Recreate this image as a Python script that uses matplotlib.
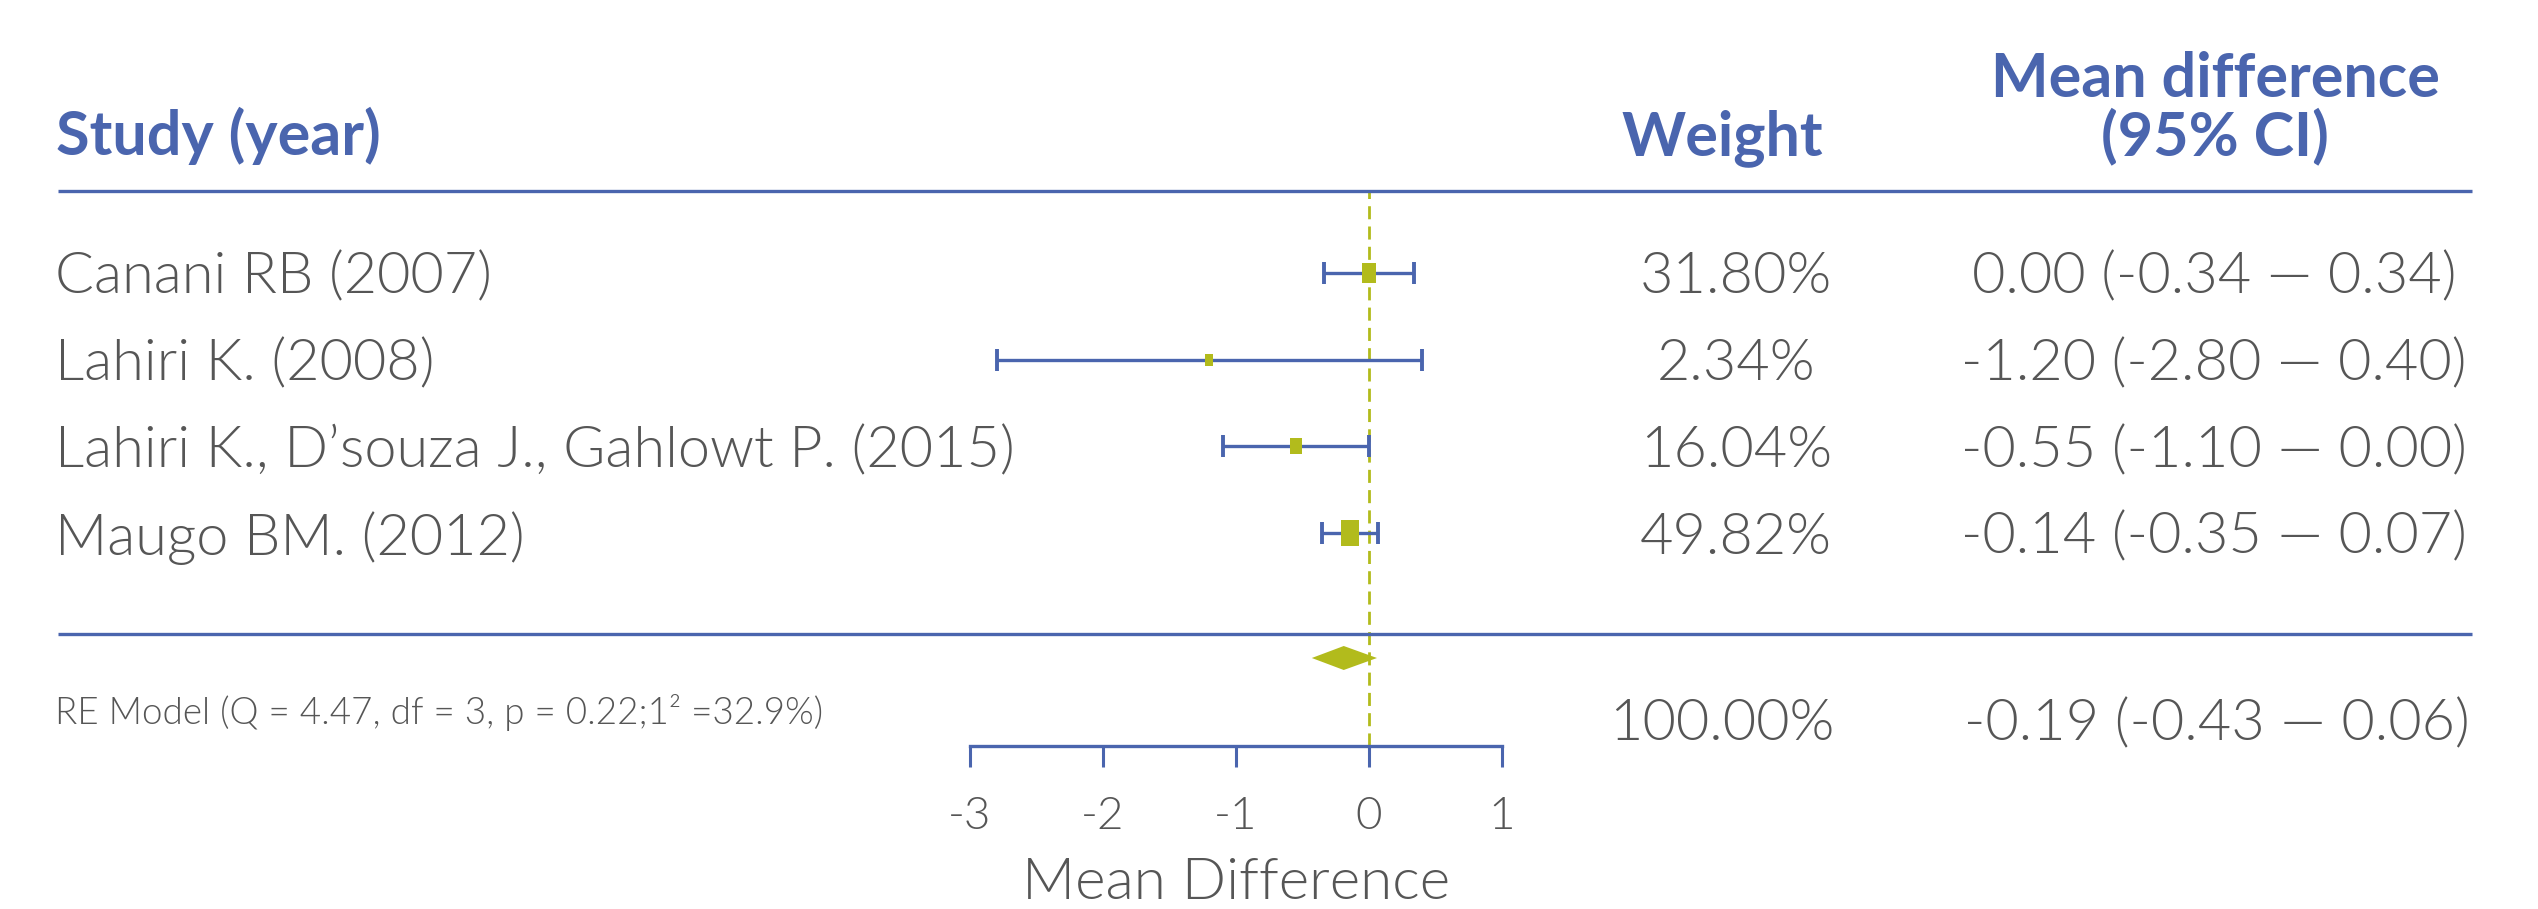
import numpy as np
import matplotlib.pyplot as plt
from matplotlib import transforms, font_manager
from matplotlib.path import Path
from matplotlib.patches import Polygon

plt.rcParams['font.family'] = ['Lato', 'DejaVu Sans']
plt.rcParams['axes.unicode_minus'] = False

studies = ['Canani RB (2007)', 'Lahiri K. (2008)',
           'Lahiri K., D\u2019souza J., Gahlowt P. (2015)', 'Maugo BM. (2012)']
weights = [31.80, 2.34, 16.04, 49.82]
estimates = [0.00, -1.20, -0.55, -0.14]
ci_low = [-0.34, -2.80, -1.10, -0.35]
ci_high = [0.34, 0.40, 0.00, 0.07]

pooled_est, pooled_low, pooled_high = -0.19, -0.43, 0.06
pooled_weight = 100.00
model_text = 'RE Model (Q = 4.47, df = 3, p = 0.22;1\u00b2 =32.9%)'

blue = '#4a65ae'
green = '#b2bb1c'
grey = '#565656'

# Lato Light for the body text (weight='light' alone can land on Hairline)
light_file = None
for f in font_manager.findSystemFonts():
    name = f.split('/')[-1].lower()
    if name.startswith('lato') and 'light' in name and 'italic' not in name:
        light_file = f
        break


def light(size):
    if light_file:
        return font_manager.FontProperties(fname=light_file, size=size)
    return font_manager.FontProperties(family='Lato', weight='light', size=size)


W, H = 2538, 909
fig = plt.figure(figsize=(W / 100, H / 100), dpi=100)

# forest panel: spans -3..1 horizontally, from the header rule down to the axis
ax = fig.add_axes([970 / W, 1 - 746 / H, 532 / W, (746 - 191) / H])
row0, step = 273, 86.7          # pixel row of first study and row spacing


def row(px):
    return (px - row0) / step


ax.set_xlim(-3, 1)
ax.set_ylim(row(746), row(191))

rows = np.arange(len(studies))
est = np.array(estimates)
lo = np.array(ci_low)
hi = np.array(ci_high)

ax.axvline(0, color=green, lw=2.0, dashes=(4.7, 2.6), zorder=1)
ax.errorbar(est, rows, xerr=[est - lo, hi - est], fmt='none', ecolor=blue,
            elinewidth=2.4, capsize=7.6, capthick=2.8, zorder=2, clip_on=False)

# study boxes, taller than wide, sized by weight
box = Path([(-0.7, -1), (0.7, -1), (0.7, 1), (-0.7, 1), (-0.7, -1)],
           [Path.MOVETO, Path.LINETO, Path.LINETO, Path.LINETO, Path.CLOSEPOLY])
for r, e, w in zip(rows, est, weights):
    h_px = 10.5 + 0.33 * w
    ax.plot(e, r, marker=box, ms=h_px * 0.72, color=green, mew=0,
            zorder=3, clip_on=False)

# pooled estimate diamond
yd = row(658)
dh = 12 / step
ax.add_patch(Polygon([(pooled_low, yd), (pooled_est, yd - dh),
                      (pooled_high, yd), (pooled_est, yd + dh)],
                     closed=True, color=green, lw=0, zorder=3))

for s in ['top', 'left', 'right']:
    ax.spines[s].set_visible(False)
ax.spines['bottom'].set_color(blue)
ax.spines['bottom'].set_linewidth(2.4)
ax.set_yticks([])
ax.set_xticks([-3, -2, -1, 0, 1])
ax.tick_params(axis='x', direction='out', length=15, width=2.2, color=blue,
               labelcolor=grey, pad=21)
for t in ax.get_xticklabels():
    t.set_fontproperties(light(33))
ax.set_xlabel('Mean Difference', fontproperties=light(42), color=grey,
              labelpad=15)
ax.patch.set_alpha(0)

# text columns: x in figure fraction, y in panel rows
tr = transforms.blended_transform_factory(fig.transFigure, ax.transData)
hdr = dict(color=blue, fontweight='bold', fontsize=44, transform=tr)
ax.text(56 / W, row(155), 'Study (year)', ha='left', va='baseline', **hdr)
ax.text(1722 / W, row(155), 'Weight', ha='center', va='baseline', **hdr)
ax.text(2215 / W, row(155), 'Mean difference\n(95% CI)', ha='center',
        va='baseline', linespacing=1.0, **hdr)

body = dict(color=grey, fontproperties=light(41.5), transform=tr,
            va='center_baseline')
for r, name, w, e, l, h in zip(rows, studies, weights, estimates, ci_low, ci_high):
    ax.text(55 / W, r, name, ha='left', **body)
    ax.text(1736 / W, r, f'{w:.2f}%', ha='center', **body)
    ax.text(2214 / W, r, f'{e:.2f} ({l:.2f} \u2014 {h:.2f})', ha='center', **body)

ax.text(55 / W, row(709), model_text, ha='left', va='center_baseline',
        color=grey, fontproperties=light(26.5), transform=tr)
ax.text(1722 / W, row(720), f'{pooled_weight:.2f}%', ha='center', **body)
ax.text(2217 / W, row(720),
        f'{pooled_est:.2f} ({pooled_low:.2f} \u2014 {pooled_high:.2f})',
        ha='center', **body)

# horizontal rules under the header and above the summary
for y_px, x0 in [(191, 58), (634, 58)]:
    ax.plot([x0 / W, 2472 / W], [row(y_px), row(y_px)], color=blue, lw=2.4,
            transform=tr, clip_on=False, solid_capstyle='butt')

fig.savefig('out.png', dpi=100)
